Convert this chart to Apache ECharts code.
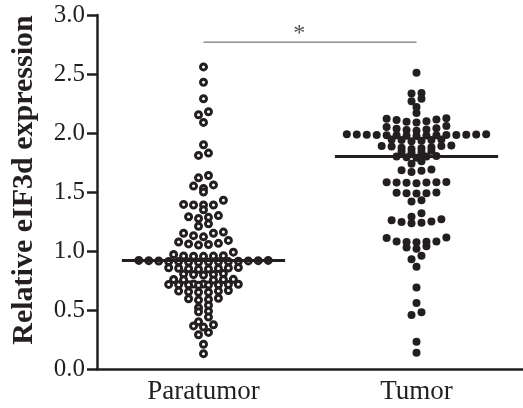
<!DOCTYPE html>
<html>
<head>
<meta charset="utf-8">
<script src="https://cdn.jsdelivr.net/npm/echarts@6/dist/echarts.min.js"></script>
<style>
  html, body { margin: 0; padding: 0; background: #fff; }
  #chart { width: 523px; height: 408px; }
</style>
</head>
<body>
<div id="chart"></div>
<script>
// groups on the x axis
var categories = ['Paratumor', 'Tumor'];

// relative eIF3d expression, one value per sample
var paratumor = [
    2.56, 2.43, 2.29, 2.18, 2.155, 2.09,
    1.90, 1.83, 1.81, 1.64, 1.62,
    1.56, 1.55, 1.53, 1.50,
    1.43, 1.395, 1.39, 1.39, 1.39, 1.35,
    1.30, 1.29, 1.285, 1.275, 1.23, 1.21,
    1.16, 1.15, 1.15, 1.13, 1.12,
    1.09, 1.076, 1.065, 1.06, 1.055, 1.05,
    0.99, 0.97, 0.96, 0.958, 0.957, 0.956, 0.955,
    0.92, 0.92, 0.918, 0.918, 0.916, 0.915, 0.914, 0.912, 0.91, 0.91, 0.908, 0.907, 0.906, 0.905,
    0.86, 0.858, 0.856, 0.854, 0.852, 0.85, 0.848, 0.845,
    0.81, 0.805, 0.80, 0.80, 0.797,
    0.76, 0.759, 0.758, 0.757, 0.755,
    0.72, 0.72, 0.718, 0.717, 0.716, 0.715, 0.714, 0.713, 0.712, 0.71,
    0.665, 0.66, 0.66, 0.655, 0.65, 0.65,
    0.60, 0.595, 0.59, 0.585,
    0.54, 0.52, 0.49, 0.485,
    0.44, 0.40, 0.375, 0.365, 0.355,
    0.31, 0.29, 0.21, 0.13
];
var tumor = [
    2.51,
    2.34, 2.335, 2.29, 2.27, 2.22, 2.17,
    2.125, 2.12, 2.115, 2.11, 2.10, 2.095, 2.09,
    2.06, 2.05, 2.04, 2.035, 2.03, 2.025, 2.02,
    1.99, 1.99, 1.988, 1.987, 1.986, 1.985, 1.984, 1.983, 1.982, 1.981, 1.98, 1.98, 1.978, 1.977, 1.975,
    1.945, 1.945, 1.94, 1.94, 1.935, 1.93,
    1.895, 1.89, 1.89, 1.885, 1.88, 1.875, 1.87, 1.865,
    1.85, 1.845, 1.84, 1.835,
    1.805, 1.80, 1.80, 1.795, 1.79,
    1.76, 1.74,
    1.69, 1.685, 1.68, 1.67,
    1.585, 1.583, 1.582, 1.58, 1.58, 1.578, 1.575,
    1.495, 1.493, 1.49, 1.49, 1.488,
    1.43, 1.42, 1.32, 1.29,
    1.27, 1.26, 1.25, 1.245, 1.24, 1.235,
    1.115, 1.11, 1.08, 1.08, 1.078, 1.076, 1.075,
    1.04, 1.03, 1.02,
    0.96, 0.93, 0.867,
    0.69, 0.56, 0.48, 0.458, 0.23, 0.138
];

// medians drawn as horizontal bars
var medians = [0.92, 1.80];
// significance bracket between the groups
var sigLevel = 2.77;
var sigText = '*';

var ink = '#231f20';
var plotW = 428, plotH = 354;
var xPerPx = 2 / plotW;
var pitch = 10 * xPerPx;      // horizontal step between dots
var rowH = 0.04;              // values closer than this share a row
var medianHalf = 82 * xPerPx;

// Prism-like dot plot: values are grouped in rows, each row spread out from the centre
function swarm(values, center) {
    var sorted = values.slice().sort(function (a, b) { return b - a; });
    var rows = [], row = null;
    sorted.forEach(function (v) {
        if (!row || row[0] - v > rowH + 1e-9) {
            row = [v];
            rows.push(row);
        } else {
            row.push(v);
        }
    });
    var out = [];
    rows.forEach(function (r) {
        var n = r.length;
        var asc = r.slice().sort(function (a, b) { return a - b; });
        var slots = [];
        for (var i = 0; i < n; i++) slots.push(i - (n - 1) / 2);
        slots.sort(function (a, b) { return Math.abs(a) - Math.abs(b) || a - b; });
        asc.forEach(function (v, i) {
            out.push([center + slots[i] * pitch, v]);
        });
    });
    return out;
}

var centers = [0.5, 1.5];

var chart = echarts.init(document.getElementById('chart'));
chart.setOption({
    animation: false,
    grid: { left: 97, top: 15, width: plotW, height: plotH },
    xAxis: [
        { type: 'value', min: 0, max: 2, show: false },
        {
            type: 'category',
            data: categories,
            position: 'bottom',
            axisLine: { lineStyle: { color: ink, width: 2.5 } },
            axisTick: { alignWithLabel: true, length: 9, lineStyle: { color: ink, width: 2.5 } },
            axisLabel: { color: ink, fontFamily: 'Liberation Serif', fontSize: 27, margin: 9 }
        }
    ],
    yAxis: {
        type: 'value',
        min: 0,
        max: 3,
        interval: 0.5,
        axisLine: { show: true, lineStyle: { color: ink, width: 2.5 } },
        axisTick: { show: true, length: 10, lineStyle: { color: ink, width: 2.5 } },
        splitLine: { show: false },
        axisLabel: {
            color: ink, fontFamily: 'Liberation Serif', fontSize: 25, margin: 12,
            formatter: function (v) { return v.toFixed(1); }
        }
    },
    graphic: [{
        type: 'text',
        x: 24, y: 180,
        rotation: Math.PI / 2,
        style: {
            text: 'Relative eIF3d expression',
            fill: ink,
            font: 'bold 30px "Liberation Serif"',
            textAlign: 'center',
            textVerticalAlign: 'middle'
        }
    }],
    series: [
        {
            name: categories[0],
            type: 'scatter',
            xAxisIndex: 0,
            data: swarm(paratumor, centers[0]),
            symbol: 'circle',
            symbolSize: 6,
            itemStyle: { color: '#fff', borderColor: ink, borderWidth: 3, opacity: 1 },
            z: 2
        },
        {
            name: categories[1],
            type: 'scatter',
            xAxisIndex: 0,
            data: swarm(tumor, centers[1]),
            symbol: 'circle',
            symbolSize: 8,
            itemStyle: { color: ink, opacity: 1 },
            z: 2
        },
        {
            type: 'line',
            xAxisIndex: 0,
            data: [[centers[0] - medianHalf, medians[0]], [centers[0] + medianHalf, medians[0]]],
            symbol: 'none',
            lineStyle: { color: ink, width: 3 },
            z: 3
        },
        {
            type: 'line',
            xAxisIndex: 0,
            data: [[centers[1] - medianHalf, medians[1]], [centers[1] + medianHalf, medians[1]]],
            symbol: 'none',
            lineStyle: { color: ink, width: 3 },
            z: 3
        },
        {
            type: 'line',
            xAxisIndex: 0,
            data: [[centers[0], sigLevel], [centers[1], sigLevel]],
            symbol: 'none',
            lineStyle: { color: '#555', width: 1 },
            z: 3
        },
        {
            type: 'scatter',
            xAxisIndex: 0,
            data: [[0.95, sigLevel]],
            symbolSize: 0,
            label: {
                show: true,
                position: 'top',
                distance: -4,
                formatter: sigText,
                color: ink,
                fontFamily: 'Liberation Serif',
                fontSize: 24
            },
            z: 3
        }
    ]
});
</script>
</body>
</html>
